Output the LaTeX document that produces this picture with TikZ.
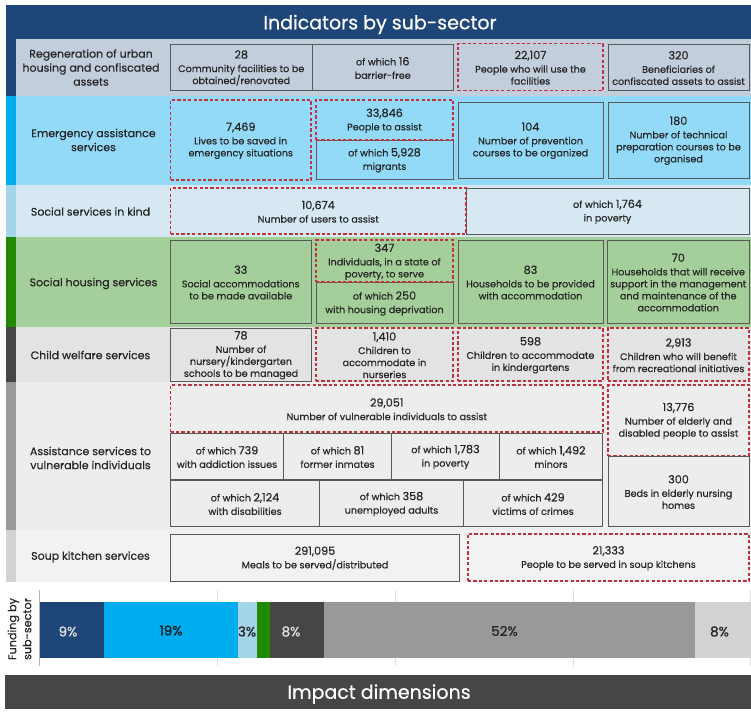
\documentclass[tikz,border=0pt]{standalone}
\usepackage{fontspec}
\setmainfont{Poppins}[FakeBold=0.5]
\newfontfamily\heavyf{Poppins}[FakeBold=0.9]
\definecolor{navy}{HTML}{1F4678}
\definecolor{navybg}{HTML}{C3CEDC}
\definecolor{cyanS}{HTML}{00AEEF}
\definecolor{cyanbg}{HTML}{92DAF8}
\definecolor{paleS}{HTML}{A5D5E8}
\definecolor{palebg}{HTML}{D6E9F3}
\definecolor{greenS}{HTML}{218A00}
\definecolor{greenbg}{HTML}{A5CF9A}
\definecolor{darkS}{HTML}{464646}
\definecolor{darkbg}{HTML}{E3E3E3}
\definecolor{midS}{HTML}{999999}
\definecolor{midbg}{HTML}{EDEDED}
\definecolor{lightS}{HTML}{D3D3D3}
\definecolor{lightbg}{HTML}{F2F2F2}
\definecolor{dashred}{HTML}{C0303F}
\definecolor{ink}{HTML}{262626}
\newcommand{\nm}[1]{{\fontsize{11.2}{12}\selectfont #1}}
\newcommand{\nl}{\\[1.5pt]}
\newcommand{\tx}{\fontsize{9.6}{12}\selectfont}
\tikzset{
  boxtext/.style={inner sep=0pt,outer sep=0pt,align=center,text=ink,font=\tx,yshift=-.75pt},
  boxbase/.style={inner sep=0pt,outer sep=0pt},
  solidbox/.style={boxbase,draw=black!65,line width=.9pt},
  dashbox/.style={boxbase,draw=dashred,line width=1.2pt,dash pattern=on 3.2pt off 2.2pt},
  rowlabel/.style={inner sep=0pt,align=center,text=ink,font=\fontsize{11}{14}\selectfont},
  bandtitle/.style={inner sep=0pt,text=white,font=\fontsize{19}{22}\selectfont},
  pct/.style={inner sep=0pt,font=\heavyf\fontsize{13.5}{15}\selectfont},
  gridline/.style={draw=black!12,line width=.6pt}
}
% name, style, x1, y1, x2, y2, text
\newcommand{\bx}[7]{\node[#2,minimum width={(#5)-(#3)},minimum height={(#6)-(#4)}] (#1) at ({((#3)+(#5))/2},{((#4)+(#6))/2}) {};
  \node[boxtext] (#1t) at (#1.center) {#7};}
% strip colour, bg colour, y1, y2
\newcommand{\rw}[4]{\fill[#2] (16,#3) rectangle (751,#4); \fill[#1] (6,#3) rectangle (16,#4);}
\begin{document}
\begin{tikzpicture}[x=1pt,y=-1pt]
\useasboundingbox (0,0) rectangle (751,713);
\fill[white] (0,0) rectangle (751,713);
% title band
\fill[navy] (6,5) rectangle (751,39);
\node[bandtitle] (title) at (380,24.5) {Indicators by sub-sector};
% rows
\rw{navy}{navybg}{39}{95.5}
\rw{cyanS}{cyanbg}{95.5}{185}
\rw{paleS}{palebg}{185}{237}
\rw{greenS}{greenbg}{237}{327}
\rw{darkS}{darkbg}{327}{382}
\rw{midS}{midbg}{382}{530}
\rw{lightS}{lightbg}{530}{582}
% row labels
\node[rowlabel] (l1) at (91,67.5) {Regeneration of urban\\housing and confiscated\\assets};
\node[rowlabel] (l2) at (93.5,140) {Emergency assistance\\services};
\node[rowlabel] (l3) at (90.5,211.5) {Social services in kind};
\node[rowlabel] (l4) at (93.5,283.5) {Social housing services};
\node[rowlabel] (l5) at (90.5,355) {Child welfare services};
\node[rowlabel] (l6) at (90.5,458) {Assistance services to\\vulnerable individuals};
\node[rowlabel] (l7) at (90.5,557) {Soup kitchen services};
% solid boxes
\bx{a1}{solidbox}{170.5}{44}{312}{90.5}{\nm{28}\nl Community facilities to be\\obtained/renovated}
\bx{a2}{solidbox}{312}{44}{453.5}{90.5}{of which \nm{16}\nl barrier-free}
\bx{a4}{solidbox}{608}{44}{749}{90.5}{\nm{320}\nl Beneficiaries of\\confiscated assets to assist}
\bx{b3}{solidbox}{316}{140}{453}{179}{of which \nm{5,928}\nl migrants}
\bx{b4}{solidbox}{458}{102}{603}{178}{\nm{104}\nl Number of prevention\\courses to be organized}
\bx{b5}{solidbox}{608}{102}{749}{178}{\nm{180}\nl Number of technical\\preparation courses to be\\organised}
\bx{c2}{solidbox}{466}{188}{749}{234}{of which \nm{1,764}\nl in poverty}
\bx{d1}{solidbox}{170.5}{240}{311}{323.5}{\nm{33}\nl Social accommodations\\to be made available}
\bx{d3}{solidbox}{316}{282}{453}{323.5}{of which \nm{250}\nl with housing deprivation}
\bx{d4}{solidbox}{458}{240}{603}{323.5}{\nm{83}\nl Households to be provided\\with accommodation}
\bx{d5}{solidbox}{607.5}{240}{749}{323.5}{\nm{70}\nl Households that will receive\\support in the management\\and maintenance of the\\accommodation}
\bx{e1}{solidbox}{170.5}{328}{311.5}{381}{\nm{78}\nl Number of\\nursery/kindergarten\\schools to be managed}
\bx{f1}{solidbox}{170.5}{433}{283.5}{479.5}{of which \nm{739}\nl with addiction issues}
\bx{f2}{solidbox}{283.5}{433}{391.5}{479.5}{of which \nm{81}\nl former inmates}
\bx{f3}{solidbox}{391.5}{433}{499.5}{479.5}{of which \nm{1,783}\nl in poverty}
\bx{f4}{solidbox}{499.5}{433}{602.5}{479.5}{of which \nm{1,492}\nl minors}
\bx{f5}{solidbox}{170.5}{480}{319.5}{526.5}{of which \nm{2,124}\nl with disabilities}
\bx{f6}{solidbox}{319.5}{480}{463.5}{526.5}{of which \nm{358}\nl unemployed adults}
\bx{f7}{solidbox}{463.5}{480}{602.5}{526.5}{of which \nm{429}\nl victims of crimes}
\bx{f9}{solidbox}{608}{456}{749}{526.5}{\nm{300}\nl Beds in elderly nursing\\homes}
\bx{g1}{solidbox}{170.5}{534}{459.5}{581}{\nm{291,095}\nl Meals to be served/distributed}
% dashed boxes
\bx{a3}{dashbox}{458}{43.5}{603}{90.5}{\nm{22,107}\nl People who will use the\\facilities}
\bx{b1}{dashbox}{170.5}{100}{311}{180}{\nm{7,469}\nl Lives to be saved in\\emergency situations}
\bx{b2}{dashbox}{316}{100}{453}{140}{\nm{33,846}\nl People to assist}
\bx{c1}{dashbox}{170.5}{188}{466}{234}{\nm{10,674}\nl Number of users to assist}
\bx{d2}{dashbox}{316}{240}{453}{282}{\nm{347}\nl Individuals, in a state of\\poverty, to serve}
\bx{e2}{dashbox}{316}{328}{453}{381}{\nm{1,410}\nl Children to\\accommodate in\\nurseries}
\bx{e3}{dashbox}{458}{328}{603}{381}{\nm{598}\nl Children to accommodate\\in kindergartens}
\bx{e4}{dashbox}{608}{328}{749}{381}{\nm{2,913}\nl Children who will benefit\\from recreational initiatives}
\bx{f0}{dashbox}{170.5}{385}{603}{432}{\nm{29,051}\nl Number of vulnerable individuals to assist}
\bx{f8}{dashbox}{608}{385}{749}{455.5}{\nm{13,776}\nl Number of elderly and\\disabled people to assist}
\bx{g2}{dashbox}{468}{534}{749}{581}{\nm{21,333}\nl People to be served in soup kitchens}
% chart
\foreach \gx in {217.5,395.5,573,750.5}{\draw[gridline] (\gx,590) -- (\gx,666);}
\draw[draw=black!30,line width=.6pt] (39.5,590) -- (39.5,666);
\fill[navy] (39.5,601.5) rectangle (104,658);
\fill[cyanS] (104,601.5) rectangle (237.5,658);
\fill[paleS] (237.5,601.5) rectangle (257,658);
\fill[greenS] (257,601.5) rectangle (270,658);
\fill[darkS] (270,601.5) rectangle (324,658);
\fill[midS] (324,601.5) rectangle (694.5,658);
\fill[lightS] (694.5,601.5) rectangle (751,658);
\node[pct,text=white!88!black] (p1) at (68,631.5) {9\%};
\node[pct,text=black!90] (p2) at (171,630.5) {19\%};
\node[pct,text=ink] (p3) at (247,631.5) {3\%};
\node[pct,text=white!88!black] (p4) at (291,631.5) {8\%};
\node[pct,text=ink] (p5) at (504.5,631) {52\%};
\node[pct,text=ink] (p6) at (719.5,631.5) {8\%};
\node[rotate=90,inner sep=0pt,align=center,text=ink,font=\fontsize{11.2}{15}\selectfont] (fund) at (19.5,629) {Funding by\\sub-sector};
% bottom band
\fill[darkS] (5,675) rectangle (751,709);
\node[bandtitle] (impact) at (379,694) {Impact dimensions};
\end{tikzpicture}
\end{document}
